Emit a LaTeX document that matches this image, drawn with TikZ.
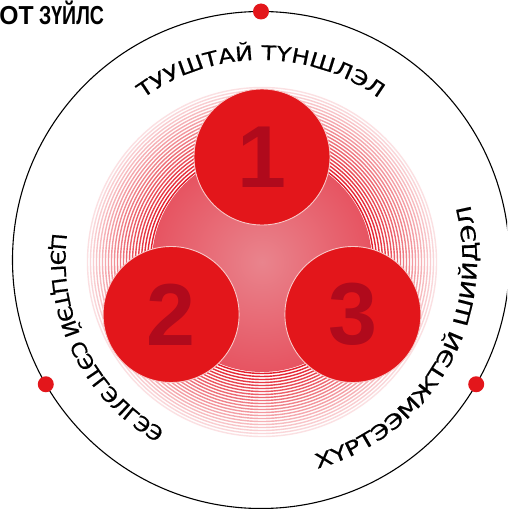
\documentclass[tikz,border=0pt]{standalone}
\usepackage{fontspec}
\usetikzlibrary{decorations.text}
\newfontfamily\lab[FakeStretch=1.2,FakeBold=0.7]{DejaVu Sans}
\newfontfamily\labn[FakeStretch=1.1,FakeBold=0.7]{DejaVu Sans}
\newfontfamily\labw[FakeStretch=1.3,FakeBold=0.7]{DejaVu Sans}
\newfontfamily\numf{Liberation Sans}
\newfontfamily\headf[FakeStretch=0.75]{Liberation Sans}
\newfontfamily\headfw[FakeStretch=0.95]{Liberation Sans}
\newcommand\labfont{\lab\fontsize{20}{24}\selectfont}
\newcommand\labnfont{\labn\fontsize{20}{24}\selectfont}
\newcommand\labwfont{\labw\fontsize{20}{24}\selectfont}
\definecolor{ccred}{HTML}{E3161B}
\definecolor{numred}{HTML}{B00A1C}
\definecolor{ringred}{HTML}{E41E2C}
\definecolor{pinkin}{HTML}{E9848D}
\definecolor{pinkout}{HTML}{E42436}
\definecolor{rimc}{HTML}{F8C8C8}
\pgfdeclareradialshading{pinkball}{\pgfpointorigin}{color(0bp)=(pinkin); color(50bp)=(pinkout)}
\tikzset{
  bubble/.style={circle, minimum size=136pt, inner sep=0pt, fill=ccred, draw=rimc, line width=0.9pt},
  digit/.style={inner sep=0pt, text=numred, font=\numf\bfseries\fontsize{88}{88}\selectfont},
  dotm/.style={circle, minimum size=16pt, inner sep=0pt, fill=ccred},
  head/.style={inner sep=0pt, font=\headf\bfseries\fontsize{26}{26}\selectfont},
  headw/.style={inner sep=0pt, font=\headfw\bfseries\fontsize{26}{26}\selectfont},
}
\begin{document}
\begin{tikzpicture}[x=1pt,y=1pt]
\useasboundingbox (-261,-249) rectangle (246,260);
\clip (-261,-249) rectangle (246,260);
\fill[white] (-261,-249) rectangle (246,260);
% rings
\foreach \i in {0,...,21}{
  \pgfmathsetmacro\rr{111.5+3*\i}
  \pgfmathsetmacro\pp{100-4.1*\i}
  \draw[ringred!\pp, line width=1.4pt] (1,-2) circle[radius=\rr pt];
}
% pink disc
\path[shading=pinkball] (1,-2) circle[radius=110pt];
% bubbles
\node[bubble] (c1) at (1,103) {};
\node[bubble] (c2) at (-89.9,-54.5) {};
\node[bubble] (c3) at (91.9,-54.5) {};
\node[digit] (n1) at (c1) {1};
\node[digit] (n2) at (c2) {2};
\node[digit] (n3) at (c3) {3};
% outer circle
\draw[black, line width=1.1pt] (0,0) circle[radius=248.5pt];
\node[dotm] (d1) at (90:248.5pt) {};
\node[dotm] (d2) at (210:248.5pt) {};
\node[dotm] (d3) at (330:248.5pt) {};
% curved labels
\path[decorate, decoration={text along path, text={|\labfont|ТУУШТАЙ ТҮНШЛЭЛ}, text align=center}]
  (165:200pt) arc[start angle=165, end angle=15, radius=200pt];
\path[decorate, decoration={text along path, text={|\labnfont|ЦЭГЦТЭЙ СЭТГЭЛГЭЭ}, text align=center}]
  (145:210pt) arc[start angle=145, end angle=268, radius=210pt];
\path[decorate, decoration={text along path, text={|\labwfont|ХҮРТЭЭМЖТЭЙ ШИЙДЭЛ}, text align=center}]
  (255:216pt) arc[start angle=255, end angle=405, radius=216pt];
% heading
\node[headw, anchor=base east] (hd1) at (-227,235.5) {ОТ};
\node[head, anchor=base west] (hd2) at (-222,235.5) {ЗҮЙЛС};
\end{tikzpicture}
\end{document}
